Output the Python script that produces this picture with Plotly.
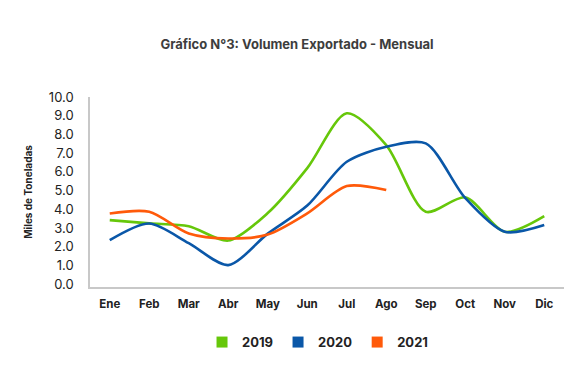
import plotly.graph_objects as go

months = ["Ene", "Feb", "Mar", "Abr", "May", "Jun", "Jul", "Ago", "Sep", "Oct", "Nov", "Dic"]
y2019 = [3.42, 3.25, 3.1, 2.33, 3.8, 6.2, 9.13, 7.43, 3.87, 4.64, 2.8, 3.64]
y2020 = [2.35, 3.24, 2.19, 1.02, 2.7, 4.2, 6.54, 7.34, 7.52, 4.6, 2.8, 3.16]
y2021 = [3.78, 3.87, 2.71, 2.44, 2.65, 3.78, 5.24, 5.03]
yticks = [0, 1, 2, 3, 4, 5, 6, 7, 8, 9, 10]

series = [("2019", y2019, "#66C70A"), ("2020", y2020, "#0A57A8"), ("2021", y2021, "#FF5A0A")]

fig = go.Figure()
for name, vals, col in series:
    fig.add_trace(go.Scatter(x=months[:len(vals)], y=vals, mode="lines", name=name,
                             line=dict(color=col, width=2.6, shape="spline", smoothing=0.8),
                             showlegend=False, hoverinfo="skip"))
for name, vals, col in series:
    fig.add_trace(go.Scatter(x=[None], y=[None], mode="markers", name=f"<b>{name}</b>",
                             marker=dict(symbol="square", size=11, color=col)))

font_family = "Inter, Lato, sans-serif"
fig.update_layout(
    width=569, height=374,
    margin=dict(l=90, r=5, t=97, b=87, autoexpand=False),
    paper_bgcolor="white", plot_bgcolor="white",
    title=dict(text="<b>Gráfico N°3: Volumen Exportado - Mensual</b>", x=0.522, xanchor="center",
               y=0.882, yanchor="middle", font=dict(family=font_family, size=13, color="#3d3d3d")),
    legend=dict(orientation="h", x=0.48, xanchor="center", y=-0.29, yanchor="middle",
                font=dict(family=font_family, size=13, color="#222"), itemwidth=30,
                traceorder="normal"),
    font=dict(family=font_family),
)
fig.update_xaxes(type="category", categoryorder="array", categoryarray=months, automargin=False,
                 range=[-0.5, 11.5], showgrid=False, showline=True, linecolor="#c8c8c8", linewidth=1.5,
                 ticks="", tickfont=dict(family=font_family, size=11.5, color="#222"),
                 ticklabelstandoff=5, tickprefix="<b>", ticksuffix="</b>")
fig.update_yaxes(range=[-0.15, 10.0], tickvals=yticks, ticktext=[f"{v:.1f}" for v in yticks],
                 automargin=False,
                 showgrid=False, zeroline=False, showline=True, linecolor="#c8c8c8", linewidth=1.5,
                 ticks="", tickfont=dict(family=font_family, size=13, color="#222"),
                 ticklabelstandoff=12,
                 title=dict(text="<b>Miles de Toneladas</b>", font=dict(family=font_family, size=10, color="#222"),
                            standoff=14))
fig.write_html("out.html", config={"displayModeBar": False},
               post_script="document.body.style.margin='0';")
